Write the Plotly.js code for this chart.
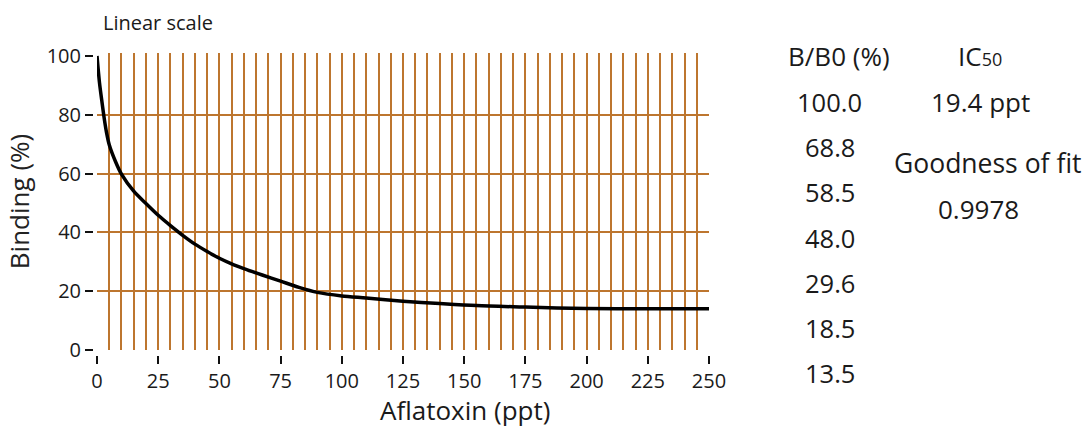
<!DOCTYPE html>
<html>
<head>
<meta charset="utf-8">
<script src="https://cdn.plot.ly/plotly-3.0.1.min.js"></script>
<style>html,body{margin:0;padding:0;background:#fff;}#chart{width:1085px;height:427px;}</style>
</head>
<body>
<div id="chart"></div>
<script>
// ---- data ----
const concentration = [0, 1, 2, 3, 4, 5, 7.5, 10, 15, 20, 25, 30, 35, 40, 45, 50, 55, 60, 67.5, 75, 82.5, 90, 100, 110, 125, 140, 155, 175, 200, 225, 250];
const binding       = [100, 91, 84.5, 78.5, 73.5, 69.8, 64.2, 59.8, 54, 49.8, 45.8, 42.3, 39, 36, 33.5, 31.2, 29.3, 27.7, 25.5, 23.4, 21.3, 19.6, 18.4, 17.7, 16.6, 15.8, 15.1, 14.6, 14.1, 14.0, 14.0];
const xTickVals = [0, 25, 50, 75, 100, 125, 150, 175, 200, 225, 250];
const yTickVals = [0, 20, 40, 60, 80, 100];
const yGridVals = [20, 40, 60, 80];
const bbValues = [100.0, 68.8, 58.5, 48.0, 29.6, 18.5, 13.5];
const ic50 = 19.4;
const ic50Unit = 'ppt';
const goodnessOfFit = 0.9978;

// ---- layout helpers (pixel -> paper) ----
const W = 1085, H = 427;
const M = {l: 60, r: 300, t: 40, b: 40};
const PW = W - M.l - M.r, PH = H - M.t - M.b;
const px = x => (x - M.l) / PW;
const py = y => (H - M.b - y) / PH;

const FONT = '"Open Sans", "Noto Sans", sans-serif';
const GRID = '#bd762f';
const TXT = '#1a1a1a';

const trace = {
  x: concentration, y: binding, type: 'scatter', mode: 'lines',
  line: {color: '#000', width: 3.5, shape: 'spline', smoothing: 0.8},
  hoverinfo: 'skip', showlegend: false
};

const annotations = [];
function addText(text, x, y, size, xanchor) {
  annotations.push({text: text, xref: 'paper', yref: 'paper', x: px(x), y: py(y),
    xanchor: xanchor || 'center', yanchor: 'middle', showarrow: false,
    font: {family: FONT, size: size, color: TXT}});
}
addText('B/B0 (%)', 839, 56, 26);
bbValues.forEach((v, i) => addText(v.toFixed(1), 830, 102 + i * 45.2, 25.5));
addText('IC<span style="font-size:18px">50</span>', 980, 56, 26);
addText(ic50.toFixed(1) + ' ' + ic50Unit, 980, 102, 26);
addText('Goodness of fit', 987, 163, 26.5);
addText(goodnessOfFit.toFixed(4), 978, 209, 26);
addText('Aflatoxin (ppt)', 465, 410, 26);

const layout = {
  width: W, height: H,
  margin: M,
  paper_bgcolor: '#fff', plot_bgcolor: '#fff',
  font: {family: FONT, color: TXT},
  showlegend: false,
  title: {text: 'Linear scale', xref: 'paper', x: px(103), xanchor: 'left',
          yref: 'container', y: 1 - 23 / H, yanchor: 'middle',
          font: {family: FONT, size: 20, color: TXT}},
  xaxis: {
    domain: [px(97), px(709)], anchor: 'free', position: py(355),
    range: [0, 250], tickmode: 'array', tickvals: xTickVals,
    ticks: 'outside', ticklen: 8, tickwidth: 2, tickcolor: '#111',
    tickfont: {family: FONT, size: 20, color: TXT},
    showgrid: true, gridcolor: GRID, gridwidth: 2,
    minor: {dtick: 5, showgrid: true, gridcolor: GRID, gridwidth: 2, ticks: ''},
    zeroline: false, showline: false, fixedrange: true
  },
  yaxis: {
    domain: [py(350), py(53)], anchor: 'free', position: px(93),
    range: [0, 101], tickmode: 'array', tickvals: yTickVals,
    ticks: 'outside', ticklen: 8, tickwidth: 2, tickcolor: '#111',
    tickfont: {family: FONT, size: 20, color: TXT},
    showgrid: false,
    minor: {tickmode: 'array', tickvals: yGridVals, showgrid: true, gridcolor: GRID, gridwidth: 2, ticks: ''},
    zeroline: false, showline: false, fixedrange: true,
    title: {text: 'Binding (%)', standoff: 8, font: {family: FONT, size: 26, color: '#222'}}
  },
  annotations: annotations
};

Plotly.newPlot('chart', [trace], layout, {displayModeBar: false, staticPlot: true});
</script>
</body>
</html>
